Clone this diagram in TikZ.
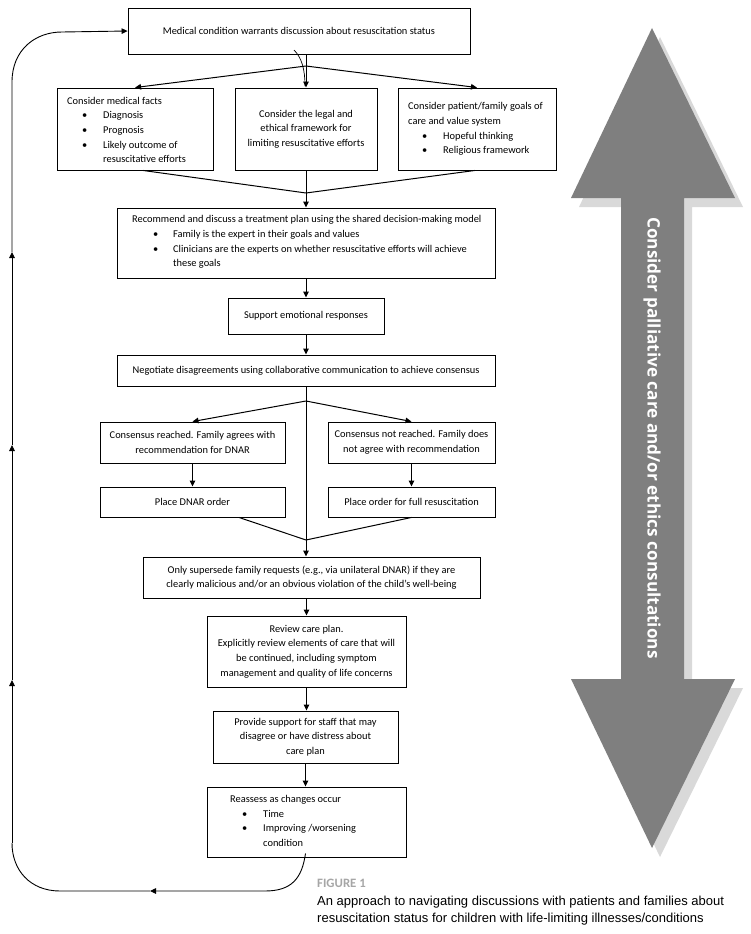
\documentclass[tikz,border=0pt]{standalone}
\usepackage{fontspec}
\setmainfont{Carlito}
\newfontfamily\capfont{Liberation Sans}
\newfontfamily\arrowfont{Open Sans}
\usetikzlibrary{arrows.meta,calc}
\definecolor{arrowgray}{HTML}{7F7F7F}
\definecolor{shadowgray}{HTML}{D9D9D9}
\definecolor{captiongray}{HTML}{A6A6A6}
\newcommand{\mybul}[2]{\hspace*{#1pt}\makebox[#2pt][l]{\textbullet}}
\begin{document}
\begin{tikzpicture}[x=1pt,y=-1pt,
  box/.style={draw, line width=0.9pt, inner sep=0pt, align=center, font=\fontsize{10.4}{14.7}\selectfont},
  txt/.style={inner sep=0pt, align=left, anchor=west, font=\fontsize{10.4}{14.7}\selectfont},
  flow/.style={line width=1pt, -{Triangle[length=6pt,width=5.5pt]}},
  plain/.style={line width=1pt},
  loopline/.style={line width=0.9pt},
  loopflow/.style={line width=0.9pt, -{Triangle[length=6pt,width=5.5pt]}}]
\useasboundingbox (0,0) rectangle (751,934);

% big double arrow
\fill[shadowgray, shift={(8,9)}] (652,28) -- (735,198) -- (684,198) -- (684,679) -- (735,679) -- (652,848) -- (571,679) -- (621,679) -- (621,198) -- (571,198) -- cycle;
\fill[arrowgray] (652,28) -- (735,198) -- (684,198) -- (684,679) -- (735,679) -- (652,848) -- (571,679) -- (621,679) -- (621,198) -- (571,198) -- cycle;
\node[rotate=-90, text=white, inner sep=0pt, font=\arrowfont\bfseries\fontsize{17.2}{20}\selectfont] (bigtxt) at (652,438) {Consider palliative care and/or ethics consultations};

% boxes
\node[box, minimum width=342, minimum height=46] (top) at (299,31) {Medical condition warrants discussion about resuscitation status};
\node[box, minimum width=156, minimum height=82] (fl) at (135,129) {};
\node[box, minimum width=142, minimum height=82] (fm) at (306,129) {Consider the legal and\\ ethical framework for\\ limiting resuscitative efforts};
\node[box, minimum width=158, minimum height=82] (fr) at (477,129) {};
\node[box, minimum width=378, minimum height=70] (rec) at (306,243) {};
\node[box, minimum width=156, minimum height=36] (sup) at (306,316) {Support emotional responses};
\node[box, minimum width=378, minimum height=31] (neg) at (306,370.5) {Negotiate disagreements using collaborative communication to achieve consensus};
\node[box, minimum width=185, minimum height=41] (cl) at (192.5,442.5) {Consensus reached. Family agrees with\\ recommendation for DNAR};
\node[box, minimum width=167, minimum height=41] (cr) at (411.5,442.5) {Consensus not reached. Family does\\ not agree with recommendation};
\node[box, minimum width=185, minimum height=30] (pl) at (192.5,502) {Place DNAR order};
\node[box, minimum width=167, minimum height=30] (pr) at (411.5,502) {Place order for full resuscitation};
\node[box, minimum width=337, minimum height=41] (only) at (311.5,577.5) {Only supersede family requests (e.g., via unilateral DNAR) if they are\\ clearly malicious and/or an obvious violation of the child’s well-being};
\node[box, minimum width=199, minimum height=71] (rev) at (306.5,651.5) {Review care plan.\\ Explicitly review elements of care that will\\ be continued, including symptom\\ management and quality of life concerns};
\node[box, minimum width=185, minimum height=52] (prov) at (305.5,737) {Provide support for staff that may\\ disagree or have distress about\\ care plan};
\node[box, minimum width=199, minimum height=70] (reas) at (306.5,822) {};

% bulleted texts
\node[txt] (tfl) at (67,130) {Consider medical facts\\ \mybul{15}{21}Diagnosis\\ \mybul{15}{21}Prognosis\\ \mybul{15}{21}Likely outcome of\\ \hspace*{36pt}resuscitative efforts};
\node[txt] (tfr) at (408,129) {Consider patient/family goals of\\ care and value system\\ \mybul{14}{21}Hopeful thinking\\ \mybul{14}{21}Religious framework};
\node[txt] (trec) at (132,242) {Recommend and discuss a treatment plan using the shared decision-making model\\ \mybul{21}{20}Family is the expert in their goals and values\\ \mybul{21}{20}Clinicians are the experts on whether resuscitative efforts will achieve\\ \hspace*{41pt}these goals};
\node[txt] (treas) at (230,821) {Reassess as changes occur\\ \mybul{12}{21}Time\\ \mybul{12}{21}Improving /worsening\\ \hspace*{33pt}condition};

% flow connectors
\coordinate (b1) at (306,66);
\coordinate (m1) at (306,193);
\coordinate (b2) at (306,401);
\coordinate (m2) at (306,540);
\draw[flow] (top.south -| fm.north) -- (fm.north);
\draw[flow] (b1) -- (fl.north);
\draw[flow] (b1) -- (fr.north);
\draw[plain] ($(fl.south)+(8,0)$) -- (m1);
\draw[plain] ($(fr.south)+(-2,0)$) -- (m1);
\draw[flow] (fm.south) -- (rec.north);
\draw[flow] (rec.south) -- (sup.north);
\draw[flow] (sup.south) -- (neg.north);
\draw[flow] (neg.south) -- (neg.south |- only.north);
\draw[flow] (b2) -- (cl.north);
\draw[flow] (b2) -- (cr.north);
\draw[flow] (cl.south) -- (pl.north);
\draw[flow] (cr.south) -- (pr.north);
\draw[plain] ($(pl.south west)!0.75!(pl.south east)$) -- (m2);
\draw[plain] (pr.south) -- (m2);
\draw[flow] (rev.north |- only.south) -- (rev.north);
\draw[flow] (rev.south) -- (rev.south |- prov.north);
\draw[flow] (prov.south) -- (prov.south |- reas.north);

% small curve under top box
\coordinate (c0) at (294,50);
\coordinate (c1) at (305,86);
\draw[line width=0.7pt] (c0) .. controls (302,58) and (305,70) .. (c1);

% feedback loop
\coordinate (l0) at ($(reas.south)+(-1,-4)$);
\coordinate (l1) at (150,891);
\coordinate (l2) at (12,843);
\coordinate (l3) at (12,680);
\coordinate (l4) at (12,445);
\coordinate (l5) at (12,252);
\draw[loopflow] (l0) .. controls (302,878) and (292,891) .. (265,891) -- (l1);
\draw[loopline] (l1) -- (60,891) .. controls (30,891) and (12,870) .. (l2);
\draw[loopflow] (l2) -- (l3);
\draw[loopflow] (l3) -- (l4);
\draw[loopflow] (l4) -- (l5);
\draw[loopflow] (l5) -- (12,82) .. controls (12,50) and (35,32) .. (62,32) -- (top.west);

% caption
\node[anchor=base west, inner sep=0pt, text=captiongray, font=\bfseries\fontsize{12.8}{14}\selectfont] (figlab) at (317,887) {FIGURE 1};
\node[anchor=base west, inner sep=0pt, font=\capfont\fontsize{13}{17}\selectfont] (cap1) at (317,905) {An approach to navigating discussions with patients and families about};
\node[anchor=base west, inner sep=0pt, font=\capfont\fontsize{13}{17}\selectfont] (cap2) at (317,922) {resuscitation status for children with life-limiting illnesses/conditions};
\end{tikzpicture}
\end{document}
